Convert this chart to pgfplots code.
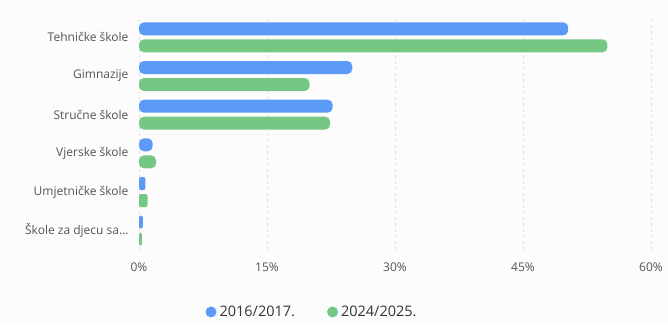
\documentclass[border=0pt]{standalone}
\usepackage{pgfplots}
\pgfplotsset{compat=1.18}
\usepackage{fontspec}
\setmainfont{Open Sans}
\definecolor{bgc}{HTML}{FCFCFC}
\definecolor{cblue}{HTML}{5B9BF7}
\definecolor{cgreen}{HTML}{74C884}
\definecolor{txt}{HTML}{555555}
\definecolor{gridc}{HTML}{E2E2E2}
\begin{document}
\begin{tikzpicture}[x=1pt,y=1pt]
\fill[bgc] (0,0) rectangle (668,325);
\useasboundingbox (0,0) rectangle (668,325);
\begin{axis}[
  at={(139pt,75pt)}, anchor=south west,
  scale only axis, width=512pt, height=232pt,
  xmin=0, xmax=60, ymin=-0.5, ymax=5.5,
  xtick={0,15,30,45,60},
  xticklabel={\pgfmathprintnumber{\tick}\%},
  /pgf/number format/assume math mode=true,
  ytick={0,1,2,3,4,5},
  yticklabels={{Škole za djecu sa…},{Umjetničke škole},{Vjerske škole},{Stručne škole},{Gimnazije},{Tehničke škole}},
  axis line style={draw=none},
  major tick length=0pt,
  xmajorgrids, grid style={gridc, dashed, line width=0.8pt},
  tick label style={font=\fontsize{12}{14}\selectfont, text=txt},
  xticklabel style={yshift=-9pt},
  yticklabel style={xshift=-7pt},
  legend style={at={(0.338,-0.267)}, anchor=center, draw=none, fill=none,
    legend columns=2, font=\fontsize{14.5}{16}\selectfont, text=black!80,
    /tikz/every even column/.append style={column sep=30pt}},
]
\addplot[xbar, bar width=13pt, draw=none, fill=cblue, rounded corners=5pt, bar shift=8.5pt,
  legend image code/.code={\fill[cblue] (0pt,0pt) circle (5.5pt); \path (6.5pt,0pt);}] coordinates {
 (50.3,5) (25.0,4) (22.7,3) (1.6,2)};
\addplot[xbar, bar width=13pt, draw=none, fill=cgreen, rounded corners=5pt, bar shift=-8.5pt,
  legend image code/.code={\fill[cgreen] (0pt,0pt) circle (5.5pt); \path (6.5pt,0pt);}] coordinates {
 (54.9,5) (20.0,4) (22.4,3) (2.0,2)};
\addplot[forget plot, xbar, bar width=13pt, draw=none, fill=cblue, rounded corners=2pt, bar shift=8.5pt] coordinates {
 (0.75,1) (0.45,0)};
\addplot[forget plot, xbar, bar width=13pt, draw=none, fill=cgreen, rounded corners=2pt, bar shift=-8.5pt] coordinates {
 (1.0,1) (0.35,0)};
\legend{2016/2017.,2024/2025.}
\end{axis}
\end{tikzpicture}
\end{document}
